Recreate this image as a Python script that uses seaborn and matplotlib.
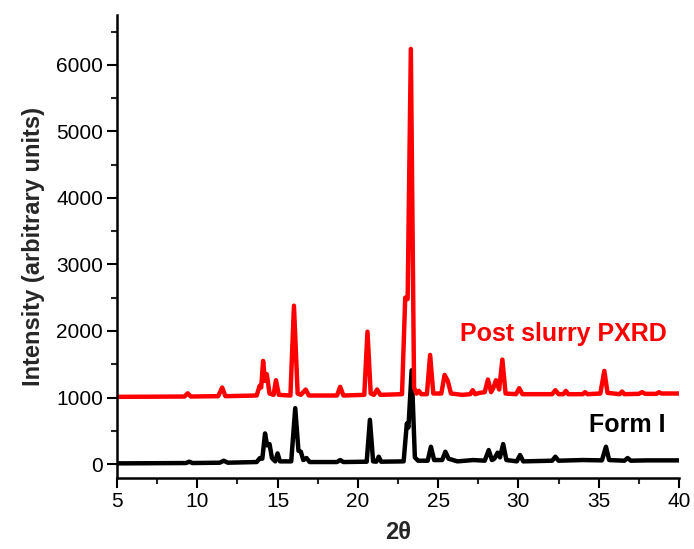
import matplotlib
matplotlib.use("Agg")
import matplotlib.pyplot as plt
import seaborn as sns
import pandas as pd
from matplotlib.ticker import MultipleLocator

# ---- data (2theta, intensity) ----
form1_2theta = [5.0, 7.0, 9.3, 9.5, 9.7, 11.4, 11.65, 11.9, 13.7, 13.9, 14.05, 14.22, 14.35, 14.5,
                14.65, 14.85, 15.0, 15.15, 15.85, 16.1, 16.3, 16.45, 16.6, 16.8, 17.0, 18.7, 18.9,
                19.1, 20.55, 20.75, 20.95, 21.15, 21.3, 21.45, 22.85, 23.05, 23.15, 23.35, 23.55,
                23.75, 24.35, 24.55, 24.75, 25.25, 25.45, 25.65, 26.2, 27.2, 27.9, 28.15, 28.35,
                28.5, 28.7, 28.85, 29.05, 29.25, 29.9, 30.1, 30.3, 32.1, 32.3, 32.5, 34.0, 35.2,
                35.45, 35.65, 36.6, 36.8, 37.0, 38.0, 40.0]
form1_int = [10, 12, 15, 35, 15, 20, 50, 20, 30, 90, 80, 460, 280, 300,
             90, 40, 160, 40, 40, 840, 200, 185, 60, 90, 30, 30, 60,
             30, 35, 665, 40, 35, 110, 35, 40, 610, 550, 1410, 100,
             50, 50, 260, 60, 60, 185, 80, 40, 60, 50, 210, 60,
             80, 170, 100, 300, 60, 40, 135, 40, 50, 110, 50, 60, 55,
             260, 60, 50, 90, 50, 55, 55]

post_2theta = [5.0, 7.0, 9.2, 9.4, 9.6, 11.3, 11.55, 11.75, 13.7, 13.88, 13.98, 14.1, 14.22, 14.33,
               14.5, 14.75, 14.9, 15.08, 15.8, 16.02, 16.25, 16.45, 16.75, 16.95, 18.7, 18.9, 19.1,
               20.4, 20.6, 20.8, 21.0, 21.2, 21.4, 22.75, 22.95, 23.1, 23.3, 23.5, 23.65, 23.8,
               23.95, 24.3, 24.5, 24.7, 25.2, 25.4, 25.6, 25.8, 26.5, 27.0, 27.15, 27.3, 27.6,
               27.9, 28.1, 28.3, 28.45, 28.6, 28.8, 29.0, 29.2, 29.85, 30.05, 30.25, 32.1, 32.3,
               32.5, 32.8, 32.95, 33.1, 34.0, 34.15, 34.3, 35.1, 35.35, 35.55, 36.3, 36.45, 36.6,
               37.5, 37.7, 37.9, 38.6, 38.75, 38.9, 40.0]
post_int = [1010, 1012, 1015, 1063, 1015, 1020, 1150, 1020, 1030, 1175, 1150, 1550, 1250, 1350,
            1060, 1040, 1260, 1040, 1030, 2380, 1060, 1040, 1120, 1030, 1030, 1160, 1030,
            1040, 1990, 1060, 1040, 1120, 1040, 1050, 2500, 2480, 6240, 1150, 1060, 1100,
            1050, 1050, 1640, 1060, 1060, 1340, 1250, 1060, 1040, 1050, 1110, 1050, 1070,
            1080, 1270, 1080, 1150, 1260, 1120, 1570, 1060, 1050, 1140, 1050, 1050, 1110,
            1050, 1050, 1100, 1050, 1050, 1080, 1050, 1060, 1400, 1070, 1050, 1090, 1050,
            1055, 1080, 1055, 1055, 1080, 1060, 1060]

series_names = ["Form I", "Post slurry PXRD"]
series_colors = ["black", "red"]

df = pd.concat([
    pd.DataFrame({"2theta": form1_2theta, "Intensity": form1_int, "series": series_names[0]}),
    pd.DataFrame({"2theta": post_2theta, "Intensity": post_int, "series": series_names[1]}),
], ignore_index=True)

sns.set_style("ticks")
plt.rcParams["font.family"] = ["Liberation Sans", "DejaVu Sans"]

fig = plt.figure(figsize=(6.94, 5.49), dpi=100)
ax = fig.add_axes([117 / 694, 1 - 478 / 549, (679 - 117) / 694, (478 - 15) / 549])

sns.lineplot(data=df, x="2theta", y="Intensity", hue="series", estimator=None, sort=True,
             palette=dict(zip(series_names, series_colors)), linewidth=3.2, legend=False, ax=ax,
             solid_joinstyle="round", solid_capstyle="round")

ax.set_xlim(5, 40)
ax.set_ylim(-210, 6750)
ax.xaxis.set_major_locator(MultipleLocator(5))
ax.xaxis.set_minor_locator(MultipleLocator(2.5))
ax.yaxis.set_major_locator(MultipleLocator(1000))
ax.yaxis.set_minor_locator(MultipleLocator(500))
ax.set_yticks([0, 1000, 2000, 3000, 4000, 5000, 6000])

for side in ["top", "right"]:
    ax.spines[side].set_visible(False)
for side in ["left", "bottom"]:
    ax.spines[side].set_linewidth(1.8)
    ax.spines[side].set_color("black")

ax.tick_params(axis="both", which="major", direction="out", length=7, width=1.5,
               labelsize=15, colors="black", pad=3)
ax.tick_params(axis="both", which="minor", direction="out", length=4, width=1.5)

ax.set_xlabel("2θ", fontsize=17, fontweight="bold", labelpad=7)
ax.set_ylabel("Intensity (arbitrary units)", fontsize=17, fontweight="bold", labelpad=8)

ax.text(32.8, 1960, "Post slurry PXRD", color="red", fontsize=18, fontweight="bold",
        ha="center", va="center")
ax.text(36.8, 590, "Form I", color="black", fontsize=18, fontweight="bold",
        ha="center", va="center")

fig.savefig("out.png", dpi=100)
